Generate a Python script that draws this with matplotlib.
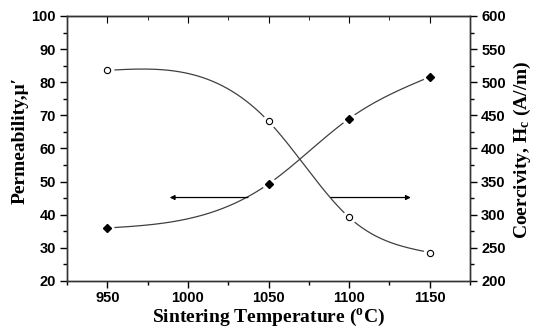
import numpy as np
import matplotlib
matplotlib.use('Agg')
import matplotlib.pyplot as plt
from matplotlib.ticker import MultipleLocator
from matplotlib.font_manager import FontProperties

# sintering temperatures (C)
temps = [950, 1050, 1100, 1150]
# initial permeability (left axis)
permeability = [36.0, 49.3, 69.0, 81.6]
# coercivity Hc in A/m (right axis)
coercivity = [518, 441, 296, 243]


def natural_spline(x, y, n=200):
    # natural cubic spline through the points, for a smooth connecting line
    x = np.asarray(x, float)
    y = np.asarray(y, float)
    h = np.diff(x)
    k = len(x)
    A = np.zeros((k, k))
    b = np.zeros(k)
    A[0, 0] = A[-1, -1] = 1
    for i in range(1, k - 1):
        A[i, i - 1] = h[i - 1]
        A[i, i] = 2 * (h[i - 1] + h[i])
        A[i, i + 1] = h[i]
        b[i] = 6 * ((y[i + 1] - y[i]) / h[i] - (y[i] - y[i - 1]) / h[i - 1])
    M = np.linalg.solve(A, b)
    xs = np.linspace(x[0], x[-1], n)
    idx = np.clip(np.searchsorted(x, xs) - 1, 0, k - 2)
    x0, x1 = x[idx], x[idx + 1]
    hh = x1 - x0
    t0 = x1 - xs
    t1 = xs - x0
    ys = (M[idx] * t0**3 + M[idx + 1] * t1**3) / (6 * hh) \
        + (y[idx] / hh - M[idx] * hh / 6) * t0 \
        + (y[idx + 1] / hh - M[idx + 1] * hh / 6) * t1
    return xs, ys


tick_font = FontProperties(family='Liberation Sans', weight='bold', size=10.5)
label_font = dict(family='Liberation Serif', weight='bold', size=14)

fig = plt.figure(figsize=(5.36, 3.29), dpi=100)
ax = fig.add_axes([0.125, 0.1459, 0.7519, 0.8055])
ax2 = ax.twinx()

line_color = '#404040'

# permeability curve, filled diamonds
xs, ys = natural_spline(temps, permeability)
ax.plot(xs, ys, color=line_color, lw=0.9, zorder=2)
ax.plot(temps, permeability, ls='none', marker='o', ms=9, mfc='white', mec='white', zorder=3)
ax.plot(temps, permeability, ls='none', marker='D', ms=4, color='black', zorder=4)

# coercivity curve, open circles
xs2, ys2 = natural_spline(temps, coercivity)
ax2.plot(xs2, ys2, color=line_color, lw=0.9, zorder=2)
ax2.plot(temps, coercivity, ls='none', marker='o', ms=9, mfc='white', mec='white', zorder=3)
ax2.plot(temps, coercivity, ls='none', marker='o', ms=4.5, mfc='white', mec='black', mew=0.8, zorder=4)

# arrows pointing to each curve's axis
ax.annotate('', xy=(987, 45.2), xytext=(1039, 45.2),
            arrowprops=dict(arrowstyle='-|>', color='black', lw=0.9, mutation_scale=7))
ax2.annotate('', xy=(1140, 326), xytext=(1087, 326),
             arrowprops=dict(arrowstyle='-|>', color='black', lw=0.9, mutation_scale=7))

ax.set_xlim(925, 1175)
ax.set_ylim(20, 100)
ax2.set_ylim(200, 600)

ax.xaxis.set_major_locator(MultipleLocator(50))
ax.xaxis.set_minor_locator(MultipleLocator(25))
ax.yaxis.set_major_locator(MultipleLocator(10))
ax.yaxis.set_minor_locator(MultipleLocator(5))
ax2.yaxis.set_major_locator(MultipleLocator(50))
ax2.yaxis.set_minor_locator(MultipleLocator(25))

for a in (ax, ax2):
    a.tick_params(which='major', length=5, width=1, direction='out', pad=3)
    a.tick_params(which='minor', length=3, width=1, direction='out')
    for sp in a.spines.values():
        sp.set_linewidth(1)
        sp.set_color('#333333')
ax.tick_params(axis='x', which='major', pad=2)

# top axis carries inward ticks only
top = ax.secondary_xaxis('top')
top.xaxis.set_major_locator(MultipleLocator(50))
top.xaxis.set_minor_locator(MultipleLocator(25))
top.tick_params(which='major', direction='in', length=5, labeltop=False)
top.tick_params(which='minor', direction='in', length=3)

for lab in ax.get_xticklabels() + ax.get_yticklabels() + ax2.get_yticklabels():
    lab.set_fontproperties(tick_font)

ax.set_xlabel('Sintering Temperature ($\\mathregular{^{o}}$C)', **label_font)
ax.xaxis.label.set_va('center')
ax.xaxis.set_label_coords(0.5, -0.138)

ax.set_ylabel("Permeability,\u03bc\u2032", **label_font)
ax.yaxis.label.set_va('center')
ax.yaxis.set_label_coords(-0.1166, 0.532)

ax2.set_ylabel('Coercivity, H$\\mathregular{_c}$ (A//m)', **label_font)
ax2.yaxis.label.set_va('center')
ax2.yaxis.set_label_coords(1.129, 0.494)

fig.savefig('out.png', dpi=100)
